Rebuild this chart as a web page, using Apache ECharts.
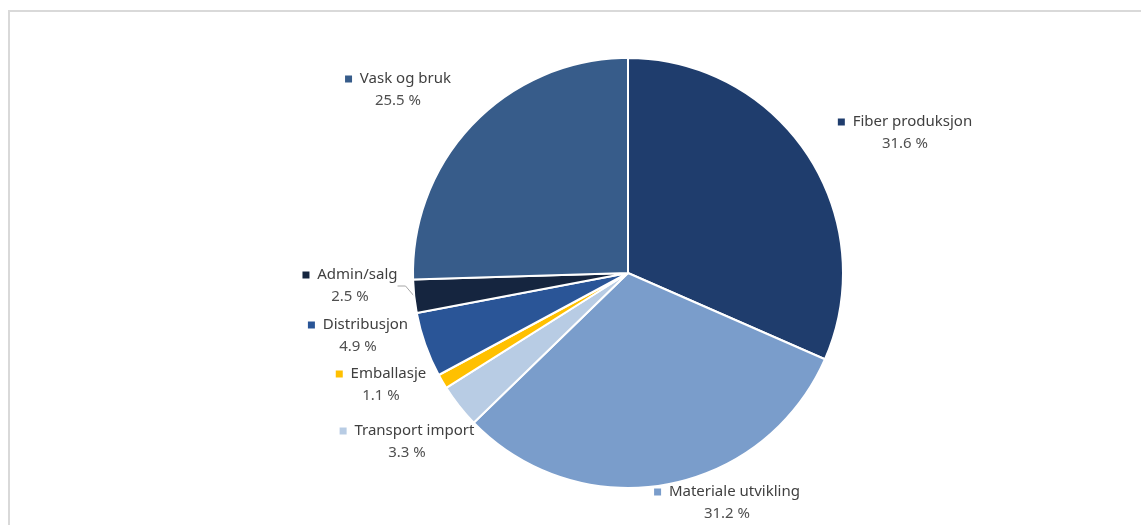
<!DOCTYPE html>
<html>
<head>
<meta charset="utf-8">
<script src="https://cdn.jsdelivr.net/npm/echarts@6/dist/echarts.min.js"></script>
<style>html,body{margin:0;padding:0;background:#fff;}#c{width:1141px;height:525px;}</style>
</head>
<body>
<div id="c"></div>
<script>
const categories = ['Fiber produksjon','Materiale utvikling','Transport import','Emballasje','Distribusjon','Admin/salg','Vask og bruk'];
const values = [31.6, 31.2, 3.3, 1.1, 4.9, 2.5, 25.5];
const colors = ['#1F3D6D','#7A9DCB','#B8CCE4','#FFC000','#2A5597','#15253F','#375C8A'];
// label anchor centres (layout only)
const labelPos = [[905,133],[727,503],[407,442],[381,385],[358,336],[350,286],[398,90]];

const rich = {
  n:{fontFamily:'Noto Sans',fontSize:15,color:'#404040',lineHeight:22},
  p:{fontFamily:'Noto Sans',fontSize:15,color:'#505050',lineHeight:22}
};
colors.forEach((c,i)=>{rich['m'+i]={width:7,height:7,backgroundColor:c};});

const chart = echarts.init(document.getElementById('c'));
chart.setOption({
  animation:false,
  backgroundColor:'#fff',
  graphic:[{type:'rect',shape:{x:9,y:11,width:1300,height:700},style:{fill:null,stroke:'#d9d9d9',lineWidth:2},silent:true}],
  series:[{
    type:'pie',
    center:[628,273],
    radius:[0,215],
    startAngle:90,
    clockwise:true,
    avoidLabelOverlap:false,
    itemStyle:{borderColor:'#fff',borderWidth:2},
    label:{
      show:true,position:'outside',
      formatter:(p)=>'{m'+p.dataIndex+'|}{n|  '+p.name+'}\n{p|'+p.value.toFixed(1)+' %}',
      rich:rich,align:'center'
    },
    labelLine:{show:false},
    labelLayout:(params)=>{const q=labelPos[params.dataIndex];return {x:q[0],y:q[1],align:'center',verticalAlign:'middle'};},
    data:categories.map((n,i)=>{
      const d={name:n,value:values[i],itemStyle:{color:colors[i]}};
      if(n==='Admin/salg'){d.labelLine={show:true,length:6,length2:8,lineStyle:{color:'#a6a6a6',width:1}};}
      return d;
    })
  }]
});
</script>
</body>
</html>
